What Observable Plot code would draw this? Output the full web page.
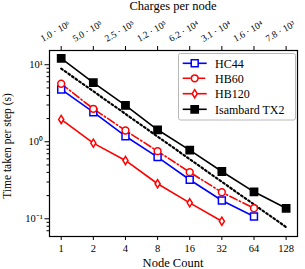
<!DOCTYPE html>
<html><head><meta charset="utf-8">
<script src="https://cdn.jsdelivr.net/npm/d3@7"></script>
<script src="https://cdn.jsdelivr.net/npm/@observablehq/plot@0.6"></script>
<style>body{margin:0;background:#fff}</style>
</head><body><div id="chart"></div>
<script>
const nodes = [1, 2, 4, 8, 16, 32, 64, 128];
const charges = ["1.0 · 10⁶","5.0 · 10⁵","2.5 · 10⁵","1.2 · 10⁵","6.2 · 10⁴","3.1 · 10⁴","1.6 · 10⁴","7.8 · 10³"];
const hc44 = [4.78, 2.42, 1.18, 0.631, 0.321, 0.173, 0.107];
const hb60 = [5.66, 2.68, 1.40, 0.755, 0.403, 0.221, 0.137];
const hb120 = [1.95, 0.96, 0.572, 0.285, 0.161, 0.093];
const tx2 = [12.1, 5.84, 2.96, 1.43, 0.78, 0.411, 0.224, 0.137];
const idealNodes = [1, 128];
const ideal = [8.9, 0.078];
const yMajor = [0.1, 1, 10];
const yMajorLabels = ["10⁻¹", "10⁰", "10¹"];
const yMinor = [0.07, 0.08, 0.09, 0.2, 0.3, 0.4, 0.5, 0.6, 0.7, 0.8, 0.9, 2, 3, 4, 5, 6, 7, 8, 9];
const seriesNames = ["HC44", "HB60", "HB120", "Isambard TX2"];

const thinDiamond = {
  draw(ctx, size) {
    const r = Math.sqrt(size / Math.PI);
    ctx.moveTo(0, -r * 1.2);
    ctx.lineTo(r * 0.75, 0);
    ctx.lineTo(0, r * 1.2);
    ctx.lineTo(-r * 0.75, 0);
    ctx.closePath();
  }
};

const mk = (xs, ys) => ys.map((v, i) => ({x: xs[i], y: v}));
const dHC44 = mk(nodes, hc44), dHB60 = mk(nodes, hb60), dHB120 = mk(nodes, hb120), dTX2 = mk(nodes, tx2), dIdeal = mk(idealNodes, ideal);

const styles = [
  {data: dHC44, stroke: "#0000ff", dash: null, symbol: "square", r: 3.9, fill: "white"},
  {data: dHB60, stroke: "#ff0000", dash: "8,2.5,1.5,2.5", symbol: "circle", r: 3.4, fill: "white"},
  {data: dHB120, stroke: "#ff0000", dash: null, symbol: thinDiamond, r: 3.4, fill: "white"},
  {data: dTX2, stroke: "#000000", dash: null, symbol: "square", r: 4.1, fill: "black"}
];

const marks = [
  Plot.axisY({ticks: yMinor, tickSize: 2.5, tickFormat: () => "", label: null}),
  Plot.axisY({ticks: yMajor, tickSize: 4.5, tickPadding: 2, tickFormat: (d) => yMajorLabels[yMajor.indexOf(d)], label: null, fontSize: 10.5}),
  Plot.axisX({ticks: nodes, tickSize: 4, tickPadding: 4, tickFormat: (d) => String(d), label: null, fontSize: 10.5}),
  Plot.axisX({anchor: "top", ticks: nodes, tickSize: 5, tickFormat: () => "", label: null}),
  Plot.line(dIdeal, {x: "x", y: "y", stroke: "black", strokeWidth: 2.2, strokeDasharray: "1.8,2.6"})
];
for (const s of styles) {
  marks.push(Plot.line(s.data, {x: "x", y: "y", stroke: s.stroke, strokeWidth: 1.6, strokeDasharray: s.dash}));
}
for (const s of styles) {
  marks.push(Plot.dot(s.data, {x: "x", y: "y", symbol: s.symbol, r: s.r, stroke: s.stroke, fill: s.fill, strokeWidth: 1.5}));
}
marks.push(Plot.frame({stroke: "black", strokeWidth: 1.2}));

const chart = Plot.plot({
  width: 305, height: 269,
  marginLeft: 49, marginRight: 8, marginTop: 50, marginBottom: 33,
  x: {type: "log", base: 2, domain: [0.777, 163.6]},
  y: {type: "log", domain: [0.0589, 15.3]},
  style: {fontFamily: "'Liberation Serif', serif", fontSize: "10.5px", background: "white", color: "black"},
  marks
});
document.getElementById("chart").appendChild(chart);

const svg = d3.select(chart);
const font = "'Liberation Serif', serif";
const xScale = chart.scale("x");
const topLabels = svg.append("g");
nodes.forEach((n, i) => {
  const px = xScale.apply(n);
  topLabels.append("text").attr("transform", `translate(${px - 5.5},31) rotate(-30)`)
    .attr("text-anchor", "middle").attr("dy", "0.35em")
    .style("font-family", font).style("font-size", "9.5px").attr("fill", "black").text(charges[i]);
});
svg.append("text").attr("x", 173).attr("y", 10).attr("text-anchor", "middle")
  .style("font-family", font).style("font-size", "12.5px").attr("fill", "black").text("Charges per node");
svg.append("text").attr("x", 173).attr("y", 267).attr("text-anchor", "middle")
  .style("font-family", font).style("font-size", "12.5px").attr("fill", "black").text("Node Count");
svg.append("text").attr("transform", "translate(11,146) rotate(-90)").attr("text-anchor", "middle")
  .style("font-family", font).style("font-size", "11.5px").attr("fill", "black").text("Time taken per step (s)");

const lg = svg.append("g");
lg.append("rect").attr("x", 178.5).attr("y", 53.5).attr("width", 117).attr("height", 66.5)
  .attr("rx", 2).attr("fill", "white").attr("stroke", "#b8b8b8").attr("stroke-width", 1);
const rows = [63.3, 78.3, 93.7, 109.3];
const symMap = {square: d3.symbolSquare, circle: d3.symbolCircle};
styles.forEach((s, i) => {
  const y = rows[i];
  lg.append("line").attr("x1", 182.7).attr("x2", 206.7).attr("y1", y).attr("y2", y)
    .attr("stroke", s.stroke).attr("stroke-width", 1.6).attr("stroke-dasharray", s.dash);
  const type = typeof s.symbol === "string" ? symMap[s.symbol] : s.symbol;
  lg.append("path").attr("d", d3.symbol(type, s.r * s.r * Math.PI)())
    .attr("transform", `translate(194.7,${y})`).attr("fill", s.fill).attr("stroke", s.stroke).attr("stroke-width", 1.5);
  lg.append("text").attr("x", 215).attr("y", y).attr("dy", "0.35em").attr("text-anchor", "start")
    .style("font-family", font).style("font-size", "12px").attr("fill", "black").text(seriesNames[i]);
});
</script></body></html>
